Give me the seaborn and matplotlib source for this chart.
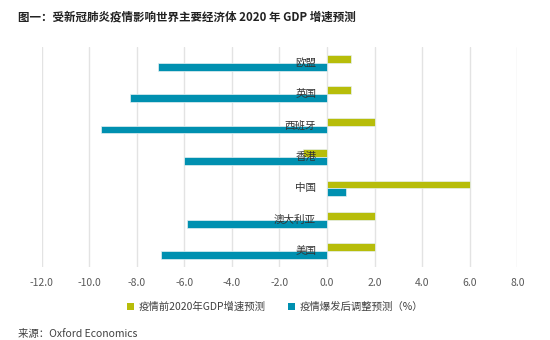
import matplotlib
matplotlib.use("Agg")
import matplotlib.pyplot as plt
import seaborn as sns
import pandas as pd
from matplotlib.patches import Patch

# Data: 2020 GDP growth forecasts (%)
regions = ["欧盟", "英国", "西班牙", "香港", "中国", "澳大利亚", "美国"]
pre_outbreak = [1.0, 1.0, 2.0, -1.0, 6.0, 2.0, 2.0]
post_outbreak = [-7.1, -8.3, -9.5, -6.0, 0.8, -5.9, -7.0]
series_names = ["疫情前2020年GDP增速预测", "疫情爆发后调整预测（%）"]
x_ticks = [-12.0, -10.0, -8.0, -6.0, -4.0, -2.0, 0.0, 2.0, 4.0, 6.0, 8.0]

colors = ["#b7bd0a", "#0090b0"]

df = pd.DataFrame({
    "region": regions * 2,
    "value": pre_outbreak + post_outbreak,
    "series": [series_names[0]] * len(regions) + [series_names[1]] * len(regions),
})

sns.set_theme(style="white")
plt.rcParams["font.family"] = ["Noto Sans CJK SC", "DejaVu Sans"]

fig = plt.figure(figsize=(5.5, 3.4), dpi=100)
ax = fig.add_axes([0.0758, 0.2147, 0.8647, 0.6471])

sns.barplot(
    data=df, y="region", x="value", hue="series", order=regions,
    hue_order=series_names, palette=colors, orient="h", width=0.5,
    dodge=True, ax=ax, legend=False, saturation=1,
    edgecolor="#e6f0f2", linewidth=0.5,
)

ax.set_xlim(-12, 8)
ax.set_ylim(6.5, -0.5)
ax.set_xticks(x_ticks)
ax.set_xticklabels([f"{t:.1f}" for t in x_ticks], fontsize=7.5, color="#595959")
ax.tick_params(axis="x", length=0, pad=8)
ax.set_yticks([])
ax.set_xlabel("")
ax.set_ylabel("")
ax.grid(axis="x", color="#e3e3e3", linewidth=1)
ax.set_axisbelow(True)
for s in ax.spines.values():
    s.set_visible(False)

# Category labels sit beside the zero line
for i, name in enumerate(regions):
    ax.text(-0.46, i, name, ha="right", va="center", fontsize=7.6, color="#333333")

handles = [Patch(facecolor=c, edgecolor="none") for c in colors]
fig.legend(handles, series_names, loc="center", bbox_to_anchor=(0.5, 0.098),
           ncol=2, frameon=False, fontsize=7.5, handlelength=0.7,
           handleheight=0.7, handletextpad=0.4, columnspacing=2.2,
           labelcolor="#404040")

fig.text(0.033, 0.95, "图一：受新冠肺炎疫情影响世界主要经济体 2020 年 GDP 增速预测",
         fontsize=8.3, fontweight="bold", color="#222222", va="center")
fig.text(0.033, 0.018, "来源：Oxford Economics", fontsize=7.5, color="#404040",
         va="center")

fig.savefig("out.png", dpi=100)
